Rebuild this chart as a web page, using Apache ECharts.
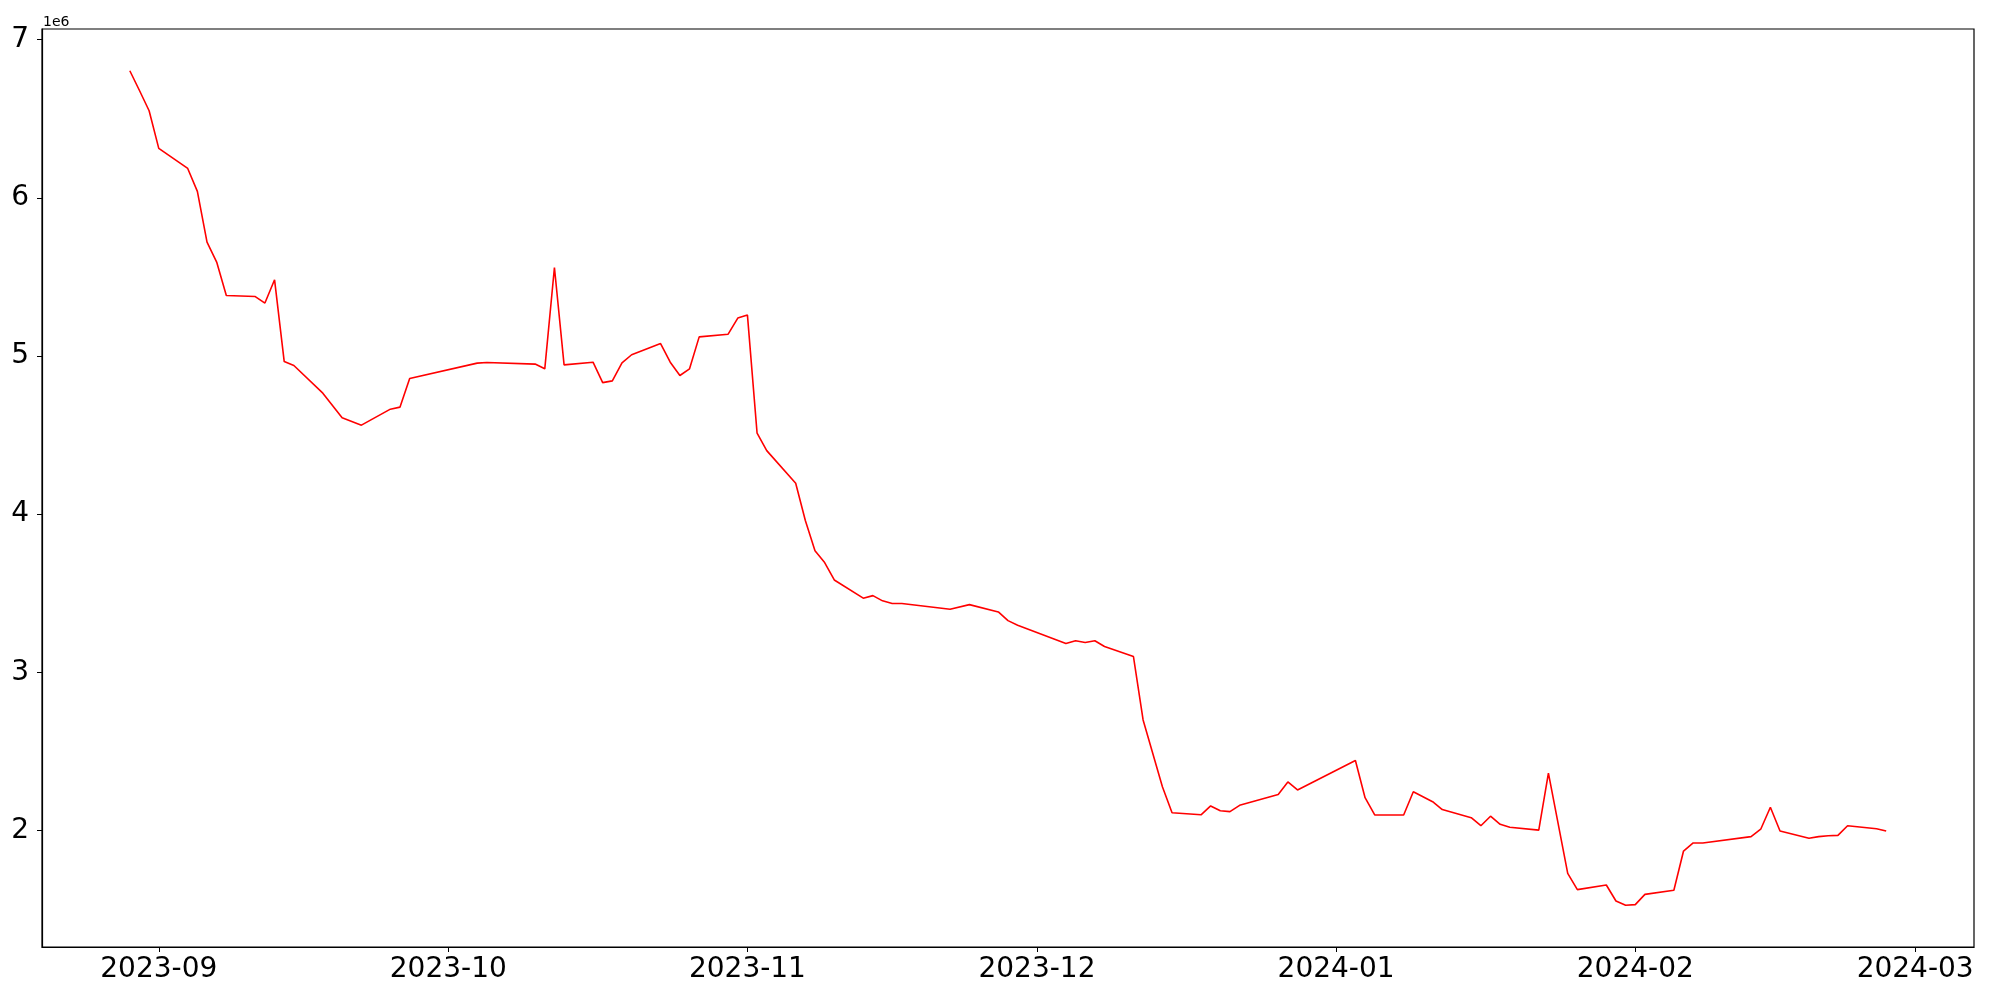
<!DOCTYPE html>
<html>
<head>
<meta charset="utf-8">
<script src="https://cdn.jsdelivr.net/npm/echarts@6/dist/echarts.min.js"></script>
<style>
  html, body { margin: 0; padding: 0; background: #fff; }
  #chart { width: 2000px; height: 1000px; }
</style>
</head>
<body>
<div id="chart"></div>
<script>
// ---- data ----
const dates = [
  '2023-08-29','2023-08-30','2023-08-31','2023-09-01','2023-09-04','2023-09-05','2023-09-06','2023-09-07','2023-09-08',
  '2023-09-11','2023-09-12','2023-09-13','2023-09-14','2023-09-15','2023-09-18','2023-09-20','2023-09-22',
  '2023-09-25','2023-09-26','2023-09-27','2023-10-04','2023-10-05','2023-10-10','2023-10-11','2023-10-12','2023-10-13',
  '2023-10-16','2023-10-17','2023-10-18','2023-10-19','2023-10-20','2023-10-23','2023-10-24','2023-10-25','2023-10-26','2023-10-27',
  '2023-10-30','2023-10-31','2023-11-01','2023-11-02','2023-11-03','2023-11-06','2023-11-07','2023-11-08','2023-11-09','2023-11-10',
  '2023-11-13','2023-11-14','2023-11-15','2023-11-16','2023-11-17','2023-11-22','2023-11-24',
  '2023-11-27','2023-11-28','2023-11-29','2023-12-04','2023-12-05','2023-12-06','2023-12-07','2023-12-08',
  '2023-12-11','2023-12-12','2023-12-14','2023-12-15','2023-12-18','2023-12-19','2023-12-20','2023-12-21','2023-12-22',
  '2023-12-26','2023-12-27','2023-12-28','2024-01-03','2024-01-04','2024-01-05','2024-01-08','2024-01-09','2024-01-11','2024-01-12',
  '2024-01-15','2024-01-16','2024-01-17','2024-01-18','2024-01-19','2024-01-22','2024-01-23','2024-01-25','2024-01-26',
  '2024-01-29','2024-01-30','2024-01-31','2024-02-01','2024-02-02','2024-02-05','2024-02-06','2024-02-07','2024-02-08',
  '2024-02-13','2024-02-14','2024-02-15','2024-02-16','2024-02-19','2024-02-20','2024-02-21','2024-02-22','2024-02-23',
  '2024-02-26','2024-02-27'
];
const values = [
  6804000,6679000,6551000,6313000,6186000,6041000,5720000,5594000,5383000,
  5376000,5335000,5482000,4965000,4940000,4765000,4609000,4563000,
  4664000,4677000,4858000,4955000,4959000,4949000,4919000,5560000,4944000,
  4961000,4832000,4843000,4957000,5008000,5079000,4961000,4877000,4919000,5121000,
  5138000,5240000,5259000,4512000,4402000,4196000,3960000,3768000,3694000,3584000,
  3469000,3485000,3452000,3435000,3435000,3399000,3428000,
  3382000,3327000,3298000,3182000,3200000,3189000,3200000,3163000,
  3100000,2699000,2277000,2112000,2099000,2155000,2125000,2119000,2159000,
  2228000,2307000,2256000,2442000,2207000,2098000,2098000,2245000,2182000,2132000,
  2081000,2030000,2090000,2039000,2020000,2002000,2362000,1729000,1626000,
  1655000,1554000,1527000,1531000,1596000,1622000,1870000,1921000,1921000,
  1961000,2008000,2147000,1997000,1951000,1961000,1967000,1969000,2030000,
  2011000,1997000
];
const xTickLabels = ['2023-09','2023-10','2023-11','2023-12','2024-01','2024-02','2024-03'];
const yTickValues = [2000000,3000000,4000000,5000000,6000000,7000000];

// ---- build ----
function parseDate(s) { const p = s.split('-').map(Number); return Date.UTC(p[0], p[1] - 1, p[2] || 1); }
const seriesData = dates.map((d, i) => [parseDate(d), values[i]]);
const xTicks = xTickLabels.map(parseDate);
const t0 = seriesData[0][0], t1 = seriesData[seriesData.length - 1][0];
const tPad = 0.05 * (t1 - t0);
const vMin = Math.min(...values), vMax = Math.max(...values);
const vPad = 0.05 * (vMax - vMin);
function pad2(n) { return (n < 10 ? '0' : '') + n; }

const chart = echarts.init(document.getElementById('chart'), null, { renderer: 'canvas' });
const FONT = 'DejaVu Sans';
chart.setOption({
  animation: false,
  backgroundColor: '#ffffff',
  grid: { left: 42, right: 26, top: 29, bottom: 53, show: true, borderColor: '#000', borderWidth: 1.2, containLabel: false },
  xAxis: {
    type: 'value',
    min: t0 - tPad, max: t1 + tPad,
    splitLine: { show: false },
    axisLine: { show: true, lineStyle: { color: '#000', width: 1.2 } },
    axisTick: { show: true, inside: false, length: 5, lineStyle: { color: '#000', width: 1 }, customValues: xTicks },
    axisLabel: {
      show: true, customValues: xTicks, margin: 9, color: '#000', fontFamily: FONT, fontSize: 28,
      formatter: function (v) { const d = new Date(v); return d.getUTCFullYear() + '-' + pad2(d.getUTCMonth() + 1); }
    }
  },
  yAxis: {
    type: 'value',
    min: vMin - vPad, max: vMax + vPad,
    splitLine: { show: false },
    axisLine: { show: true, lineStyle: { color: '#000', width: 1.2 } },
    axisTick: { show: true, inside: false, length: 5, lineStyle: { color: '#000', width: 1 }, customValues: yTickValues },
    axisLabel: {
      show: true, customValues: yTickValues, margin: 13, color: '#000', fontFamily: FONT, fontSize: 28,
      formatter: function (v) { return String(Math.round(v / 1e6)); }
    }
  },
  graphic: [{
    type: 'text', left: 43, top: 15,
    style: { text: '1e6', font: '14px "DejaVu Sans"', fill: '#000' }
  }],
  series: [{
    type: 'line',
    data: seriesData,
    showSymbol: false,
    symbol: 'none',
    lineStyle: { color: '#ff0000', width: 1.6 },
    itemStyle: { color: '#ff0000' }
  }]
});
</script>
</body>
</html>
